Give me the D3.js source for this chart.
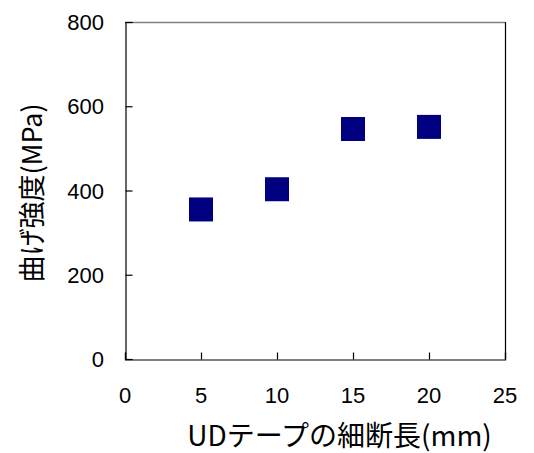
<!DOCTYPE html>
<html>
<head>
<meta charset="utf-8">
<script src="https://cdn.jsdelivr.net/npm/d3@7"></script>
<style>
  html, body { margin: 0; padding: 0; background: #fff; }
  svg { display: block; }
</style>
</head>
<body>
<svg id="chart" width="534" height="453"></svg>
<script>
// Flexural strength vs. chopped UD tape length
const tapeLength = [5, 10, 15, 20];          // mm
const strength = [355, 403, 546, 551];       // MPa
const xTicks = [0, 5, 10, 15, 20, 25];
const yTicks = [0, 200, 400, 600, 800];
const xTitle = "UDテープの細断長(mm)";
const yTitle = "曲げ強度(MPa)";

const svg = d3.select("#chart");
const plot = { left: 125, right: 505, top: 22, bottom: 359 };

const x = d3.scaleLinear().domain([0, 25]).range([plot.left, plot.right]);
const y = d3.scaleLinear().domain([0, 800]).range([plot.bottom, plot.top]);

const numFont = "'Liberation Sans', Arial, sans-serif";
const cjkFont = "'Noto Sans CJK JP', sans-serif";

// frame: top edge gray, right edge dark
svg.append("line")
  .attr("x1", plot.left).attr("x2", plot.right)
  .attr("y1", plot.top + 0.5).attr("y2", plot.top + 0.5)
  .attr("stroke", "#808080").attr("stroke-width", 1.5);
svg.append("line")
  .attr("x1", plot.right + 0.5).attr("x2", plot.right + 0.5)
  .attr("y1", plot.top).attr("y2", plot.bottom)
  .attr("stroke", "#000").attr("stroke-width", 1.2);

// axes with inward ticks
const xAxis = svg.append("g")
  .attr("transform", `translate(0,${plot.bottom + 0.5})`)
  .call(d3.axisTop(x).tickValues(xTicks).tickSize(7).tickFormat(""));
const yAxis = svg.append("g")
  .attr("transform", `translate(${plot.left + 0.5},0)`)
  .call(d3.axisRight(y).tickValues(yTicks).tickSize(7).tickFormat(""));
[xAxis, yAxis].forEach(g => {
  g.select(".domain").attr("stroke", "#000").attr("stroke-width", 1.2);
  g.selectAll(".tick line").attr("stroke", "#000").attr("stroke-width", 1.2);
});

// tick labels
svg.append("g").selectAll("text").data(xTicks).join("text")
  .attr("x", d => x(d)).attr("y", 403)
  .attr("text-anchor", "middle")
  .attr("font-family", numFont).attr("font-size", 22)
  .attr("fill", "#000").text(d => d);
svg.append("g").selectAll("text").data(yTicks).join("text")
  .attr("x", 104).attr("y", d => y(d) + 8)
  .attr("text-anchor", "end")
  .attr("font-family", numFont).attr("font-size", 22)
  .attr("fill", "#000").text(d => d);

// axis titles
svg.append("text")
  .attr("x", (182 + 497) / 2).attr("y", 446)
  .attr("text-anchor", "middle")
  .attr("font-family", cjkFont).attr("font-size", 28)
  .attr("fill", "#000").text(xTitle);
svg.append("text")
  .attr("transform", `translate(42,${(93 + 293) / 2}) rotate(-90)`)
  .attr("text-anchor", "middle")
  .attr("font-family", cjkFont).attr("font-size", 27)
  .attr("fill", "#000").text(yTitle);

// data markers
const size = 24;
svg.append("g").selectAll("rect")
  .data(tapeLength.map((d, i) => ({ len: d, val: strength[i] })))
  .join("rect")
  .attr("x", d => x(d.len) - size / 2)
  .attr("y", d => y(d.val) - size / 2)
  .attr("width", size).attr("height", size)
  .attr("fill", "#000080");
</script>
</body>
</html>
